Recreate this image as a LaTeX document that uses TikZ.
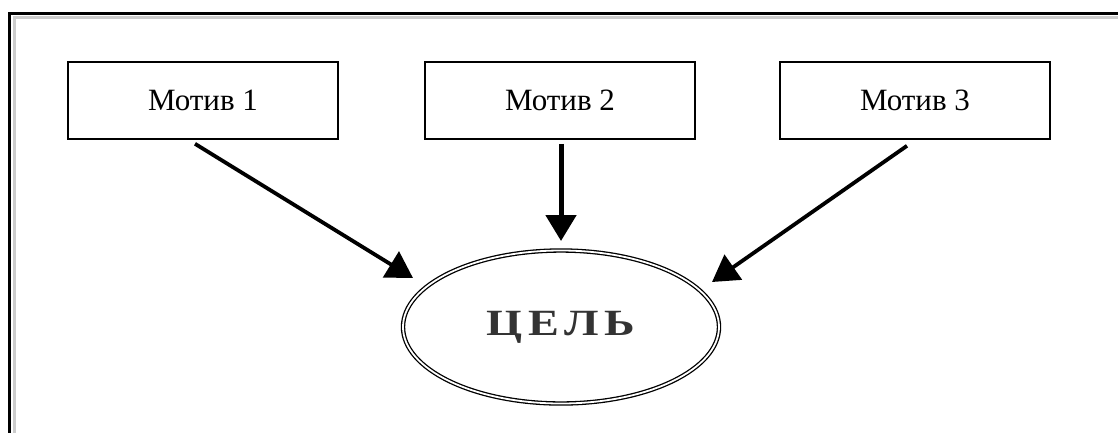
\documentclass[tikz,border=0pt]{standalone}
\usepackage{fontspec}
\setmainfont{Liberation Serif}
\newfontfamily\goalfont[FakeStretch=1.25,LetterSpace=16]{Liberation Serif}
\usetikzlibrary{arrows.meta, shapes.geometric}

\begin{document}
\begin{tikzpicture}[x=1pt, y=-1pt,
    motive/.style={
        rectangle, draw, line width=1.6pt, minimum width=270pt, minimum height=77pt,
        inner sep=0pt, font=\fontsize{31}{36}\selectfont, text centered
    },
    goalnode/.style={
        ellipse, draw, line width=1.3pt, double, double distance=1.8pt,
        minimum width=316pt, minimum height=153pt, inner sep=0pt,
        font=\goalfont\bfseries\fontsize{37}{42}\selectfont, text=black!80
    },
    arrow/.style={-{Triangle[length=26pt,width=30pt]}, line width=3.8pt},
    frameline/.style={line width=3pt}
]

% page and frame
\useasboundingbox (0,0) rectangle (1118,432);
\fill[white] (0,0) rectangle (1118,432);
\draw[frameline] (9.5,440) -- (9.5,13.5) -- (1130,13.5);
\draw[frameline, black!20] (14.5,440) -- (14.5,17.5) -- (1130,17.5);

% motives
\node[motive] (m1) at (203,100.5) {Мотив 1};
\node[motive] (m2) at (560,100.5) {Мотив 2};
\node[motive] (m3) at (915,100.5) {Мотив 3};

% goal
\node[goalnode] (goal) at (561,327) {\raisebox{-3pt}{ЦЕЛЬ}};

% arrow ends
\coordinate (s1) at ([shift={(-8,4)}]m1.south);
\coordinate (s2) at ([shift={(1,4)}]m2.south);
\coordinate (s3) at ([shift={(-8,6)}]m3.south);
\coordinate (t1) at (413,278);
\coordinate (t2) at (561,241);
\coordinate (t3) at (712,282);

% arrows
\draw[arrow] (s1) -- (t1);
\draw[arrow, line width=5pt] (s2) -- (t2);
\draw[arrow] (s3) -- (t3);

\end{tikzpicture}
\end{document}
